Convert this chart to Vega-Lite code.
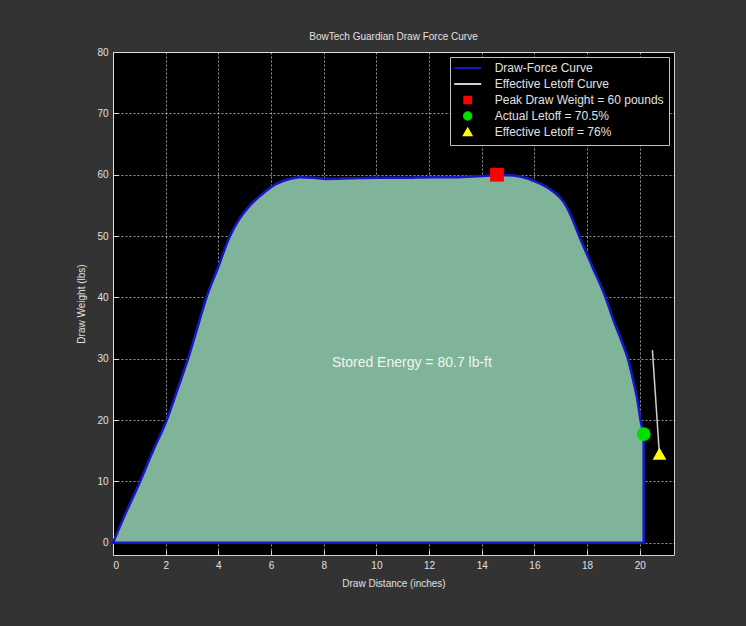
{
  "$schema": "https://vega.github.io/schema/vega-lite/v6.json",
  "width": 561,
  "height": 503,
  "autosize": {"type": "none"},
  "padding": {"left": 113, "top": 52, "right": 72, "bottom": 71},
  "background": "#333333",
  "title": {"text": "BowTech Guardian Draw Force Curve", "color": "#e0e0e0", "font": "Liberation Sans", "fontSize": 10, "fontWeight": "normal", "offset": 5},
  "datasets": {
    "curve": [
      {"x": 0, "y": 0}, {"x": 0.5, "y": 5}, {"x": 1.03, "y": 10}, {"x": 1.5, "y": 14.8},
      {"x": 2.04, "y": 20}, {"x": 2.45, "y": 25}, {"x": 2.85, "y": 30}, {"x": 3.2, "y": 35},
      {"x": 3.55, "y": 40}, {"x": 4.0, "y": 45}, {"x": 4.4, "y": 49.6}, {"x": 4.8, "y": 52.8},
      {"x": 5.2, "y": 55}, {"x": 5.6, "y": 56.6}, {"x": 6.2, "y": 58.5}, {"x": 6.7, "y": 59.3},
      {"x": 7.1, "y": 59.6}, {"x": 7.6, "y": 59.5}, {"x": 8.1, "y": 59.3}, {"x": 9, "y": 59.4},
      {"x": 10, "y": 59.5}, {"x": 11, "y": 59.5}, {"x": 12, "y": 59.6}, {"x": 13, "y": 59.6},
      {"x": 14, "y": 59.8}, {"x": 14.6, "y": 59.9}, {"x": 15.0, "y": 59.9}, {"x": 15.45, "y": 59.7},
      {"x": 16.2, "y": 58.6}, {"x": 16.7, "y": 57.3}, {"x": 17.1, "y": 55.6}, {"x": 17.4, "y": 53.2},
      {"x": 17.7, "y": 50}, {"x": 18.2, "y": 45}, {"x": 18.7, "y": 40}, {"x": 19.0, "y": 36.3},
      {"x": 19.3, "y": 33}, {"x": 19.55, "y": 30}, {"x": 19.75, "y": 26.5}, {"x": 19.9, "y": 23.5},
      {"x": 20.05, "y": 19.5}, {"x": 20.15, "y": 17.7}
    ],
    "letoff": [{"x": 20.48, "y": 31.4}, {"x": 20.74, "y": 14.8}],
    "markers": [
      {"x": 14.58, "y": 60, "series": "Peak Draw Weight = 60 pounds"},
      {"x": 20.15, "y": 17.7, "series": "Actual Letoff = 70.5%"},
      {"x": 20.75, "y": 14.5, "series": "Effective Letoff = 76%"}
    ],
    "note": [{"x": 11.35, "y": 29.3, "label": "Stored Energy = 80.7 lb-ft"}]
  },
  "layer": [
    {
      "data": {"name": "curve"},
      "mark": {"type": "area", "fill": "#80b49a", "stroke": "#1616c8", "strokeWidth": 2.5, "strokeJoin": "round", "interpolate": "monotone"},
      "encoding": {
        "x": {"field": "x", "type": "quantitative", "scale": {"domain": [0, 21.3], "nice": false, "zero": false},
              "axis": {"title": "Draw Distance (inches)", "values": [0,2,4,6,8,10,12,14,16,18,20], "labelPadding": 10, "titlePadding": 8}},
        "y": {"field": "y", "type": "quantitative", "scale": {"domain": [-2, 80], "nice": false, "zero": false},
              "axis": {"title": "Draw Weight (lbs)", "values": [0,10,20,30,40,50,60,70,80], "labelPadding": 10, "titlePadding": 10}},
        "y2": {"datum": 0}
      }
    },
    {
      "data": {"name": "letoff"},
      "mark": {"type": "line", "color": "#c8d4c8", "strokeWidth": 1.5},
      "encoding": {
        "x": {"field": "x", "type": "quantitative"},
        "y": {"field": "y", "type": "quantitative"}
      }
    },
    {
      "data": {"name": "markers"},
      "mark": {"type": "point", "filled": true, "opacity": 1, "strokeWidth": 2},
      "encoding": {
        "x": {"field": "x", "type": "quantitative"},
        "y": {"field": "y", "type": "quantitative"},
        "fill": {"field": "series", "type": "nominal",
          "scale": {"domain": ["Draw-Force Curve", "Effective Letoff Curve", "Peak Draw Weight = 60 pounds", "Actual Letoff = 70.5%", "Effective Letoff = 76%"],
                    "range": ["#1616c8", "#c8d4c8", "#ff0000", "#00e000", "#ffff00"]},
          "legend": {
            "title": null, "orient": "top-right", "offset": 5,
            "fillColor": "#000000", "strokeColor": "#c0c0c0", "padding": 5,
            "labelColor": "#e0e0e0", "labelFont": "Liberation Sans", "labelFontSize": 12, "labelLimit": 300,
            "labelOffset": 21, "symbolOffset": 6.7, "rowPadding": 0, "symbolStrokeWidth": 2
          }},
        "stroke": {"field": "series", "type": "nominal",
          "scale": {"domain": ["Draw-Force Curve", "Effective Letoff Curve", "Peak Draw Weight = 60 pounds", "Actual Letoff = 70.5%", "Effective Letoff = 76%"],
                    "range": ["#1616c8", "#c8d4c8", "#ff0000", "#00e000", "#ffff00"]},
          "legend": {
            "title": null, "orient": "top-right", "offset": 5,
            "fillColor": "#000000", "strokeColor": "#c0c0c0", "padding": 5,
            "labelColor": "#e0e0e0", "labelFont": "Liberation Sans", "labelFontSize": 12, "labelLimit": 300,
            "labelOffset": 21, "symbolOffset": 6.7, "rowPadding": 0, "symbolStrokeWidth": 2
          }},
        "shape": {"field": "series", "type": "nominal",
          "scale": {"domain": ["Draw-Force Curve", "Effective Letoff Curve", "Peak Draw Weight = 60 pounds", "Actual Letoff = 70.5%", "Effective Letoff = 76%"],
                    "range": ["M0,-1M-3.64,0H3.64M0,1", "M0,-1M-3.64,0H3.64M0,1", "square", "circle", "triangle-up"]}},
        "size": {"field": "series", "type": "nominal",
          "scale": {"type": "ordinal", "domain": ["Draw-Force Curve", "Effective Letoff Curve", "Peak Draw Weight = 60 pounds", "Actual Letoff = 70.5%", "Effective Letoff = 76%"],
                    "range": [55, 55, 45, 55, 55]}}
      }
    },
    {
      "data": {"name": "markers"},
      "mark": {"type": "point", "filled": true, "opacity": 1, "size": 190, "strokeWidth": 0},
      "encoding": {
        "x": {"field": "x", "type": "quantitative"},
        "y": {"field": "y", "type": "quantitative"},
        "fill": {"field": "series", "type": "nominal"},
        "shape": {"field": "series", "type": "nominal"}
      }
    },
    {
      "data": {"name": "note"},
      "mark": {"type": "text", "color": "#eef4ee", "font": "Liberation Sans", "fontSize": 14},
      "encoding": {
        "x": {"field": "x", "type": "quantitative"},
        "y": {"field": "y", "type": "quantitative"},
        "text": {"field": "label"}
      }
    }
  ],
  "config": {
    "view": {"stroke": "#d0d0d0", "fill": "#000000"},
    "axis": {
      "domain": false, "grid": true, "gridColor": "#ffffff", "gridDash": [2, 2], "gridOpacity": 0.6,
      "tickColor": "#d8d8d8", "tickSize": -5,
      "labelColor": "#e0e0e0", "labelFont": "Liberation Sans", "labelFontSize": 10,
      "titleColor": "#e0e0e0", "titleFont": "Liberation Sans", "titleFontSize": 10, "titleFontWeight": "normal"
    }
  }
}
